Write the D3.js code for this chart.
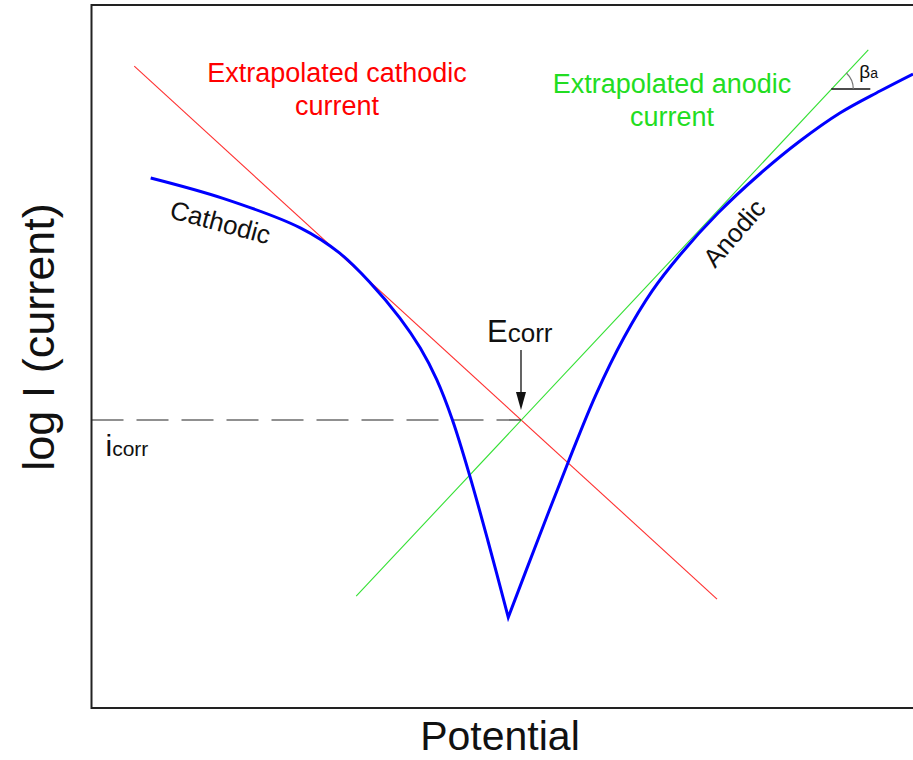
<!DOCTYPE html>
<html>
<head>
<meta charset="utf-8">
<script src="https://cdn.jsdelivr.net/npm/d3@7"></script>
<style>
  html, body { margin: 0; padding: 0; background: #fff; }
  svg { display: block; font-family: "Liberation Sans", Arial, sans-serif; }
</style>
</head>
<body>
<svg id="chart" width="913" height="760"></svg>
<script>
// Polarisation curve (arbitrary units: potential 0–100, log current 0–100)
const cathodicE = [7.2, 16.0, 25.4, 30.2, 33.9, 37.5, 40.0, 42.0, 43.9, 46.0, 48.2, 50.7];
const cathodicLogI = [75.4, 72.5, 68.3, 64.7, 60.5, 55.5, 51.2, 46.7, 41.0, 33.1, 23.9, 12.9];
const anodicE = [50.7, 54.3, 58.0, 61.37, 64.78, 68.19, 71.59, 76.22, 81.3, 86.19, 91.05, 95.92, 99.94];
const anodicLogI = [12.9, 23.9, 35.0, 44.59, 52.7, 59.3, 64.44, 70.41, 75.96, 80.65, 84.64, 87.77, 90.19];

// Tafel extrapolations (end points)
const cathodicTafelE = [5.2, 76.1];
const cathodicTafelLogI = [91.3, 15.5];
const anodicTafelE = [32.2, 94.5];
const anodicTafelLogI = [15.9, 93.6];

// Corrosion point
const Ecorr = 52.25;
const logIcorr = 40.97;

// Anodic slope marker
const betaE = 90.0;
const betaLogI = 88.05;

const svg = d3.select("#chart");
const x = d3.scaleLinear().domain([0, 100]).range([91.5, 913.5]);
const y = d3.scaleLinear().domain([0, 100]).range([708, 5]);

// frame (open on the right, cut by the page edge)
svg.append("path")
  .attr("d", `M${x(100) + 20},${y(100)} H${x(0)} V${y(0)} H${x(100) + 20}`)
  .attr("fill", "none").attr("stroke", "#222").attr("stroke-width", 2);

const line = d3.line().x(d => x(d[0])).y(d => y(d[1]));

// Tafel lines
svg.append("path")
  .attr("d", line(d3.zip(cathodicTafelE, cathodicTafelLogI)))
  .attr("stroke", "#ff3030").attr("stroke-width", 1.1).attr("fill", "none");
svg.append("path")
  .attr("d", line(d3.zip(anodicTafelE, anodicTafelLogI)))
  .attr("stroke", "#33e033").attr("stroke-width", 1.1).attr("fill", "none");

// icorr dashed level
svg.append("line")
  .attr("x1", x(0)).attr("x2", x(Ecorr))
  .attr("y1", y(logIcorr)).attr("y2", y(logIcorr))
  .attr("stroke", "#222").attr("stroke-width", 1.2)
  .attr("stroke-dasharray", "32,13");

// measured curve: two smooth branches meeting in a sharp cusp
const smooth = d3.line().x(d => x(d[0])).y(d => y(d[1])).curve(d3.curveCatmullRom.alpha(0.5));
const cPath = smooth(d3.zip(cathodicE, cathodicLogI));
const aPath = smooth(d3.zip(anodicE, anodicLogI)).replace(/^M/, "L");
svg.append("path")
  .attr("d", cPath + aPath)
  .attr("fill", "none").attr("stroke", "#0000ff").attr("stroke-width", 3)
  .attr("stroke-linejoin", "miter").attr("stroke-miterlimit", 20);

// Ecorr arrow
const ax = x(Ecorr), ay = y(logIcorr);
svg.append("line")
  .attr("x1", ax).attr("x2", ax).attr("y1", ay - 70).attr("y2", ay - 24)
  .attr("stroke", "#111").attr("stroke-width", 1.3);
svg.append("path")
  .attr("d", `M${ax - 5},${ay - 28} L${ax + 5},${ay - 28} L${ax},${ay - 10} Z`)
  .attr("fill", "#111");

// Labels
const txt = (px, py, s, size, color, anchor) => svg.append("text")
  .attr("x", px).attr("y", py).attr("font-size", size)
  .attr("fill", color).attr("text-anchor", anchor || "middle").text(s);

txt(337, 82, "Extrapolated cathodic", 27, "#ff0000");
txt(337, 115, "current", 27, "#ff0000");
txt(672, 93, "Extrapolated anodic", 27, "#22dd22");
txt(672, 126, "current", 27, "#22dd22");

svg.append("text")
  .attr("transform", "translate(218,231) rotate(15)")
  .attr("text-anchor", "middle").attr("font-size", 26).attr("fill", "#111")
  .text("Cathodic");
svg.append("text")
  .attr("transform", "translate(741,239) rotate(-49)")
  .attr("text-anchor", "middle").attr("font-size", 26).attr("fill", "#111")
  .text("Anodic");

// Ecorr
const eT = svg.append("text").attr("x", ax - 34).attr("y", ay - 78).attr("fill", "#111");
eT.append("tspan").attr("font-size", 31).text("E");
eT.append("tspan").attr("font-size", 26).text("corr");

// icorr
const iT = svg.append("text").attr("x", x(0) + 14).attr("y", ay + 36).attr("fill", "#111");
iT.append("tspan").attr("font-size", 30).text("i");
iT.append("tspan").attr("font-size", 21).text("corr");

// beta_a marker
const bx = x(betaE), by = y(betaLogI);
svg.append("line").attr("x1", bx).attr("x2", bx + 39).attr("y1", by).attr("y2", by)
  .attr("stroke", "#111").attr("stroke-width", 1.3);
const ang = Math.atan2(y(anodicTafelLogI[0]) - y(anodicTafelLogI[1]), x(anodicTafelE[1]) - x(anodicTafelE[0]));
const r = 22;
svg.append("path")
  .attr("d", `M${bx + r},${by} A${r},${r} 0 0 0 ${bx + r * Math.cos(ang)},${by - r * Math.sin(ang)}`)
  .attr("fill", "none").attr("stroke", "#777").attr("stroke-width", 1.2);
const bT = svg.append("text").attr("x", bx + 28).attr("y", by - 11).attr("fill", "#111");
bT.append("tspan").attr("font-size", 19).text("β");
bT.append("tspan").attr("font-size", 14).text("a");

// Axis titles
svg.append("text")
  .attr("x", 500).attr("y", 750).attr("text-anchor", "middle")
  .attr("font-size", 41).attr("fill", "#111").text("Potential");
svg.append("text")
  .attr("transform", "translate(54,337) rotate(-90)")
  .attr("text-anchor", "middle").attr("font-size", 45).attr("fill", "#111")
  .text("log I (current)");
</script>
</body>
</html>
